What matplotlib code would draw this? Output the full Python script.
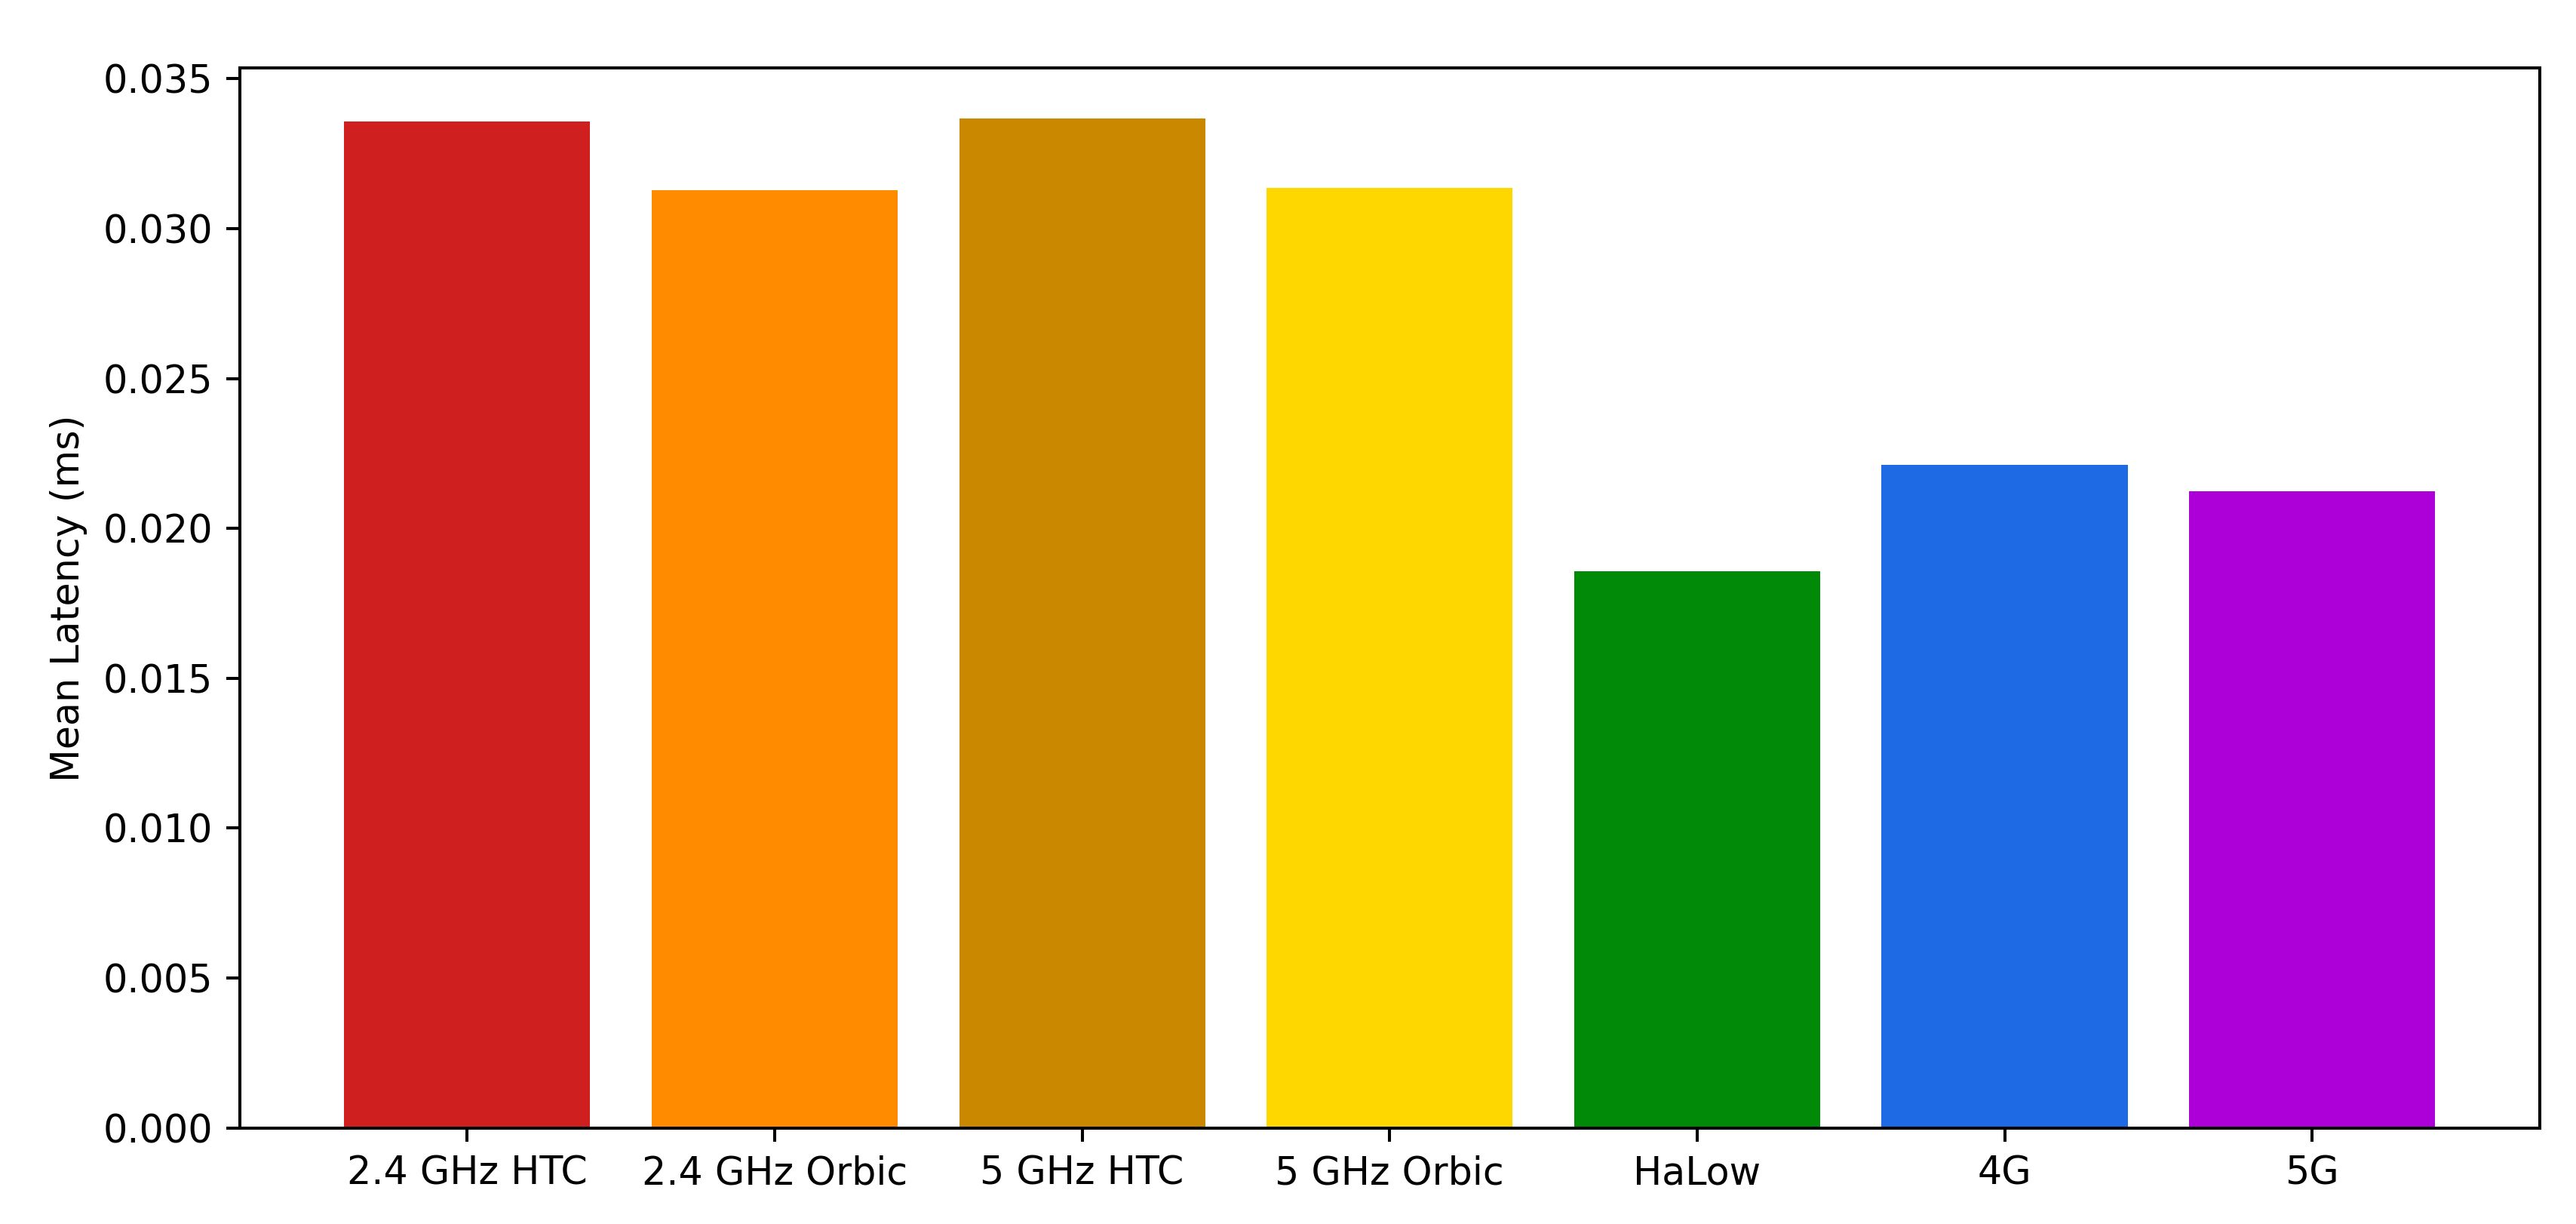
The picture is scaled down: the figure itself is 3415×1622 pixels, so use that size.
import matplotlib
matplotlib.use("Agg")
import matplotlib.pyplot as plt

categories = ["2.4 GHz HTC", "2.4 GHz Orbic", "5 GHz HTC", "5 GHz Orbic", "HaLow", "4G", "5G"]
mean_latency = [0.03357, 0.03128, 0.03368, 0.03137, 0.01858, 0.02211, 0.02125]
colors = ["#D01F1F", "#FF8C00", "#C98800", "#FFD700", "#008A08", "#1E6AE5", "#AD00D8"]

dpi = 365
fig = plt.figure(figsize=(3415 / dpi, 1622 / dpi), dpi=dpi)
left, right, bottom, top = 0.0930, 0.9859, 0.0785, 0.9445
ax = fig.add_axes([left, bottom, right - left, top - bottom])
ax.bar(categories, mean_latency, color=colors)
ax.set_ylabel("Mean Latency (ms)", fontsize=10)
ax.tick_params(labelsize=10)
fig.savefig("out.png", dpi=dpi, facecolor="white")
